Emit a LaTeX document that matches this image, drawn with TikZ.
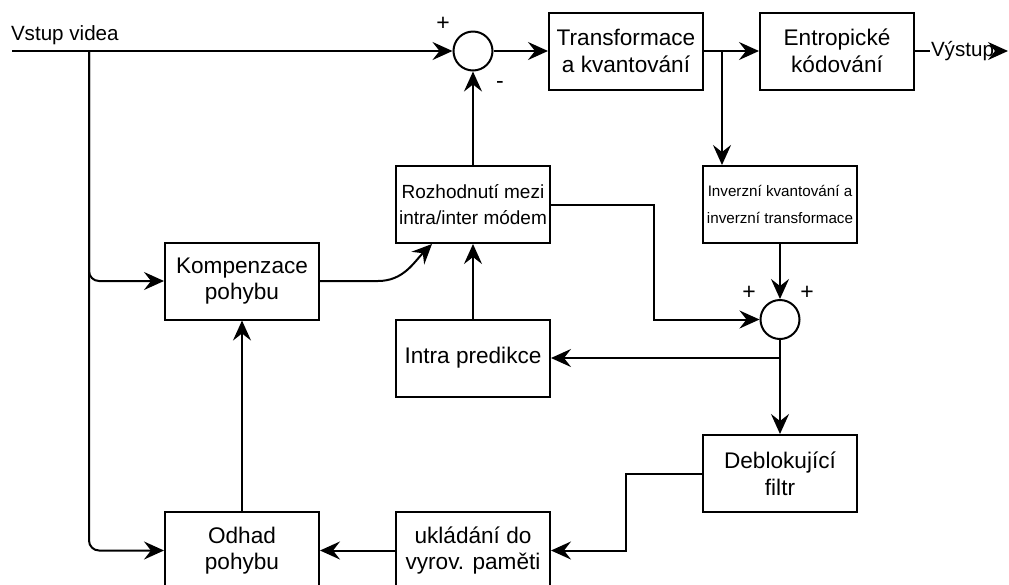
\documentclass[tikz,border=0pt]{standalone}
\usepackage{fontspec}
\setmainfont{Liberation Sans}
\usetikzlibrary{arrows.meta, positioning}

\begin{document}
\begin{tikzpicture}[
    x=0.5pt, y=-0.5pt,
    line width=1pt,
    arr/.style={-{Stealth[length=10pt, width=9pt, inset=3.5pt]}},
    block/.style={rectangle, draw, minimum width=77pt, minimum height=38.5pt, inner sep=0pt, align=center, font=\fontsize{11.3}{13.3}\selectfont},
    sumnode/.style={circle, draw, minimum size=19.5pt, inner sep=0pt},
    sign/.style={font=\fontsize{11.5}{12}\selectfont, inner sep=0pt},
    io/.style={font=\fontsize{10.3}{12}\selectfont, inner sep=0pt}
]
\useasboundingbox (0,0) rectangle (1009,585);
\clip (0,0) rectangle (1009,585);

% Forward path
\node[io, anchor=base west] (vstup) at (10,40.5) {Vstup videa};
\node[sumnode] (sum1) at (473,51) {};
\node[block] (tq) at (626,51) {Transformace\\a kvantování};
\node[block] (ent) at (837,51) {Entropické\\kódování};
\node[io, anchor=west] (vystup) at (930,51) {Výstup};

% Reconstruction loop
\node[block, font=\fontsize{7.6}{13.3}\selectfont] (inv) at (780,204.5) {Inverzní kvantování a\\inverzní transformace};
\node[sumnode] (sum2) at (780,319.5) {};
\node[block] (debl) at (780,473.5) {Deblokující\\filtr};
\node[block] (uklad) at (473,550.5) {ukládání do\\vyrov. paměti};

% Prediction
\node[block, font=\fontsize{9.5}{13.3}\selectfont] (rozh) at (473,204.5) {Rozhodnutí mezi\\intra/inter módem};
\node[block] (intra) at (473,358) {Intra predikce};
\node[block] (komp) at (242,281) {Kompenzace\\pohybu};
\node[block] (odhad) at (242,550.5) {Odhad\\pohybu};

% Signs
\node[sign] (p1) at (443,24) {+};
\node[sign] (m1) at (500,85) {-};
\node[sign] (p2) at (749,293) {+};
\node[sign] (p3) at (807,293) {+};

\coordinate (in) at (12,51);
\coordinate (br) at (89,51);
\coordinate (jn) at (722,51);
\coordinate (mix) at (654,204.5);
\coordinate (fb) at (626,473.5);
\coordinate (out) at (1008,51);

% Arrows
\draw[arr] (in) -- (sum1);
\draw[arr] (sum1) -- (tq);
\draw[arr] (tq) -- (ent);
\draw (ent) -- (vystup);
\draw[arr] (vystup) -- (out);
\draw[arr] (jn) -- (jn |- inv.north);
\draw[arr] (inv) -- (sum2);
\draw[arr] (rozh) -- (sum1);
\draw[arr] (rozh.east) -- (mix) |- (sum2.west);
\draw[arr] (sum2) -- (debl);
\draw[arr] (sum2.south |- intra.east) -- (intra.east);
\draw[arr] (intra) -- (rozh);
\draw[arr] (debl.west) -- (fb) |- (uklad.east);
\draw[arr] (uklad) -- (odhad);
\draw[arr] (odhad) -- (komp);
\draw[arr, rounded corners=5pt] (br) |- (komp.west);
\draw[arr, rounded corners=5pt] (br) |- (odhad.west);
\draw[arr] (komp.east) -- ++(58,0) to[out=0, in=-135] ([xshift=18.5pt]rozh.south west);

\end{tikzpicture}
\end{document}
